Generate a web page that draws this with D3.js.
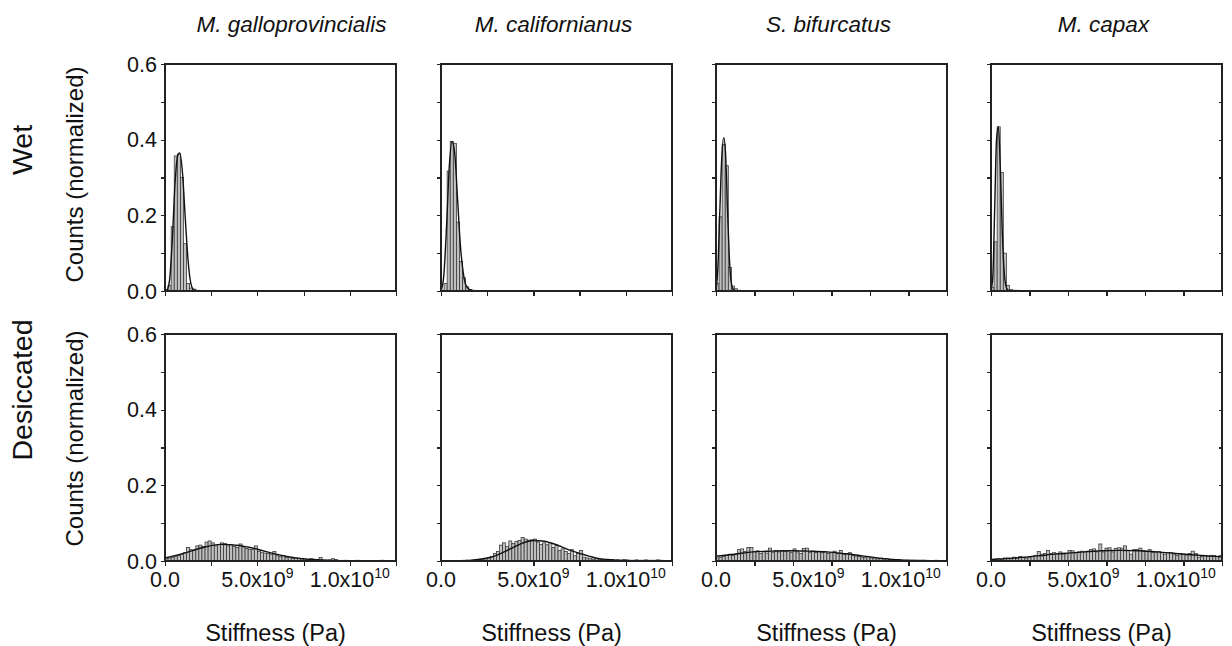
<!DOCTYPE html>
<html>
  <head>
    <meta charset="utf-8">
    <title>stiffness histograms</title>
    <script src="https://cdn.jsdelivr.net/npm/d3@7"></script>
    <style>
      body { margin: 0; background: #fff; }
      text { font-family: Arial, "Liberation Sans", sans-serif; fill: #111; }
      .axis path, .axis line { stroke: #222; stroke-width: 1.2; shape-rendering: crispEdges; }
      .bar { fill: #c0c0c0; stroke: #333; stroke-width: 0.75; }
      .fit { fill: none; stroke: #111; stroke-width: 1.4; }
    </style>
  </head>
  <body>
    <script>
      // species (columns) and conditions (rows)
      var species = ["M. galloprovincialis", "M. californianus", "S. bifurcatus", "M. capax"];
      var conditions = ["Wet", "Desiccated"];

      // histogram bin width in Pa, bins start at 0
      var binWidth = 1.25e10 / 75;

      // wet: normalized counts per bin (later bins are 0)
      var wetGallo = [0.004, 0.015, 0.17, 0.357, 0.362, 0.30, 0.125, 0.02, 0.008, 0.005, 0.002, 0.001];
      var wetCalif = [0.002, 0.02, 0.317, 0.395, 0.39, 0.182, 0.078, 0.035, 0.011, 0.004, 0.002];
      var wetBifur = [0.02, 0.196, 0.387, 0.331, 0.062, 0.013, 0.006, 0.002];
      var wetCapax = [0.01, 0.13, 0.434, 0.313, 0.10, 0.015, 0.004, 0.002, 0.002];

      // desiccated: normalized counts per bin
      var desGallo = [
        0.006, 0.008, 0.010, 0.012, 0.015, 0.018, 0.022, 0.036, 0.030, 0.028,
        0.040, 0.042, 0.038, 0.050, 0.053, 0.048, 0.040, 0.044, 0.048, 0.046,
        0.040, 0.043, 0.038, 0.036, 0.045, 0.037, 0.033, 0.030, 0.030, 0.040,
        0.025, 0.022, 0.021, 0.020, 0.018, 0.025, 0.014, 0.012, 0.015, 0.009,
        0.010, 0.007, 0.008, 0.006, 0.005, 0.005, 0.004, 0.006, 0.003, 0.002,
        0.009, 0.002, 0.002, 0.003, 0.006, 0.004, 0.001, 0.001, 0.002, 0.001,
        0.001, 0.001, 0.002, 0.001, 0.001, 0.001, 0.001, 0.001, 0.001, 0.001,
        0.002, 0.001, 0.001, 0.001, 0.001];
      var desCalif = [
        0, 0, 0, 0, 0.001, 0, 0.001, 0.001, 0.002, 0.001,
        0.002, 0.003, 0.004, 0.005, 0.006, 0.008, 0.012, 0.020, 0.025, 0.042,
        0.048, 0.038, 0.053, 0.046, 0.052, 0.054, 0.062, 0.058, 0.055, 0.056,
        0.058, 0.050, 0.044, 0.048, 0.043, 0.048, 0.036, 0.042, 0.028, 0.032,
        0.025, 0.020, 0.030, 0.014, 0.020, 0.028, 0.010, 0.008, 0.006, 0.005,
        0.006, 0.004, 0.004, 0.003, 0.003, 0.004, 0.002, 0.003, 0.002, 0.004,
        0.003, 0.002, 0.002, 0.003, 0.002, 0.002, 0.003, 0.002, 0.002, 0.002,
        0.003, 0.002, 0.001, 0.001, 0.001];
      var desBifur = [
        0.008, 0.010, 0.012, 0.015, 0.018, 0.015, 0.018, 0.030, 0.032, 0.025,
        0.036, 0.036, 0.025, 0.027, 0.020, 0.025, 0.021, 0.034, 0.022, 0.028,
        0.024, 0.028, 0.025, 0.027, 0.022, 0.032, 0.024, 0.020, 0.033, 0.034,
        0.022, 0.026, 0.022, 0.025, 0.022, 0.024, 0.020, 0.022, 0.026, 0.020,
        0.028, 0.018, 0.020, 0.022, 0.015, 0.013, 0.012, 0.010, 0.010, 0.012,
        0.008, 0.008, 0.006, 0.006, 0.005, 0.006, 0.004, 0.004, 0.003, 0.003,
        0.002, 0.002, 0.002, 0.001, 0.002, 0.001, 0.001, 0.002, 0.001, 0.001,
        0.001, 0.002, 0.001, 0.001, 0.001];
      var desCapax = [
        0.003, 0.005, 0.006, 0.004, 0.008, 0.008, 0.006, 0.010, 0.008, 0.012,
        0.010, 0.008, 0.010, 0.012, 0.015, 0.025, 0.018, 0.020, 0.028, 0.020,
        0.022, 0.020, 0.024, 0.021, 0.020, 0.028, 0.027, 0.022, 0.024, 0.026,
        0.024, 0.026, 0.030, 0.032, 0.024, 0.045, 0.024, 0.034, 0.035, 0.024,
        0.033, 0.035, 0.034, 0.040, 0.028, 0.018, 0.030, 0.030, 0.034, 0.028,
        0.025, 0.030, 0.022, 0.022, 0.025, 0.022, 0.018, 0.022, 0.022, 0.018,
        0.015, 0.020, 0.018, 0.016, 0.020, 0.026, 0.020, 0.010, 0.012, 0.015,
        0.012, 0.015, 0.015, 0.012, 0.015];

      // fitted curves, points [stiffness, count]
      var fitWetGallo = [[1e8, 0], [2.5e8, 0.03], [4e8, 0.14], [5.5e8, 0.29], [7e8, 0.36], [8e8, 0.365],
        [9.5e8, 0.31], [1.1e9, 0.19], [1.25e9, 0.08], [1.4e9, 0.02], [1.55e9, 0.003], [1.8e9, 0], [1.25e10, 0]];
      var fitWetCalif = [[0, 0], [1.5e8, 0.04], [3e8, 0.17], [4.5e8, 0.33], [6e8, 0.395], [7.5e8, 0.36],
        [9e8, 0.24], [1.05e9, 0.12], [1.2e9, 0.05], [1.35e9, 0.015], [1.6e9, 0.002], [1.9e9, 0], [1.25e10, 0]];
      var fitWetBifur = [[0, 0], [1e8, 0.06], [2e8, 0.2], [3e8, 0.34], [4.2e8, 0.405], [5.2e8, 0.36],
        [6.2e8, 0.22], [7.2e8, 0.09], [8.2e8, 0.025], [9.5e8, 0.003], [1.1e9, 0], [1.25e10, 0]];
      var fitWetCapax = [[0, 0.002], [1e8, 0.04], [2e8, 0.22], [3e8, 0.4], [4e8, 0.434], [5e8, 0.33],
        [6e8, 0.17], [7e8, 0.06], [8e8, 0.015], [9e8, 0.003], [1.05e9, 0], [1.25e10, 0]];

      var fitDesGallo = [[0, 0.008], [1e9, 0.02], [2e9, 0.035], [3e9, 0.044], [4e9, 0.041], [5e9, 0.031],
        [6e9, 0.018], [7e9, 0.009], [8e9, 0.004], [9e9, 0.0015], [1.05e10, 0.0004], [1.25e10, 0]];
      var fitDesCalif = [[0, 0], [1e9, 0.0005], [2e9, 0.004], [2.5e9, 0.008], [3e9, 0.015], [3.5e9, 0.026],
        [4e9, 0.038], [4.5e9, 0.049], [5e9, 0.054], [5.5e9, 0.053], [6e9, 0.047], [6.5e9, 0.038],
        [7e9, 0.028], [7.5e9, 0.02], [8e9, 0.013], [8.5e9, 0.007], [9e9, 0.004], [1e10, 0.001], [1.25e10, 0]];
      var fitDesBifur = [[0, 0.0125], [1e9, 0.018], [2e9, 0.024], [3e9, 0.026], [4e9, 0.027], [5e9, 0.026],
        [6e9, 0.024], [7e9, 0.019], [8e9, 0.013], [9e9, 0.007], [1e10, 0.003], [1.1e10, 0.0015], [1.25e10, 0.0005]];
      var fitDesCapax = [[0, 0.004], [1e9, 0.007], [2e9, 0.011], [3e9, 0.016], [4e9, 0.02], [5e9, 0.024],
        [6e9, 0.027], [7e9, 0.028], [8e9, 0.027], [9e9, 0.024], [1e10, 0.02], [1.1e10, 0.016], [1.25e10, 0.011]];

      var bins = [[wetGallo, wetCalif, wetBifur, wetCapax], [desGallo, desCalif, desBifur, desCapax]];
      var fits = [[fitWetGallo, fitWetCalif, fitWetBifur, fitWetCapax], [fitDesGallo, fitDesCalif, fitDesBifur, fitDesCapax]];

      // axis ticks
      var xMax = 1.25e10;
      var yMax = 0.6;
      var yTicks = [0, 0.1, 0.2, 0.3, 0.4, 0.5, 0.6];
      var yLabels = [0, 0.2, 0.4, 0.6];
      var xTicksA = [0, 2.5e9, 5e9, 7.5e9, 1e10, 1.25e10];
      var xTicksB = [0, 1.25e10 / 6, 2.5e10 / 6, 3.75e10 / 6, 5e10 / 6, 6.25e10 / 6, 1.25e10];
      var xLabels = [[0, "0.0", ""], [5e9, "5.0x10", "9"], [1e10, "1.0x10", "10"]];

      // layout
      var W = 1232, H = 646;
      var colLeft = [165, 441, 716, 991];
      var rowTop = [64, 334];
      var pw = 231, ph = 227;

      var svg = d3.select("body").append("svg")
        .attr("width", W)
        .attr("height", H);

      var x = d3.scaleLinear().domain([0, xMax]).range([0, pw]);
      var y = d3.scaleLinear().domain([0, yMax]).range([ph, 0]);

      var line = d3.line()
        .x(function(d) { return x(d[0]); })
        .y(function(d) { return y(d[1]); })
        .curve(d3.curveMonotoneX);

      for (var r = 0; r < 2; r++) {
        for (var c = 0; c < 4; c++) {
          var g = svg.append("g")
            .attr("transform", "translate(" + colLeft[c] + "," + rowTop[r] + ")");

          var data = bins[r][c].map(function(v, i) { return { x0: i * binWidth, v: v }; })
            .filter(function(d) { return d.v > 0; });

          g.selectAll("rect.bar")
            .data(data)
            .enter()
            .append("rect")
            .attr("class", "bar")
            .attr("x", function(d) { return x(d.x0); })
            .attr("width", function(d) { return x(d.x0 + binWidth) - x(d.x0); })
            .attr("y", function(d) { return y(d.v); })
            .attr("height", function(d) { return y(0) - y(d.v); });

          g.append("path")
            .datum(fits[r][c])
            .attr("class", "fit")
            .attr("d", line);

          // x axis (ticks only, labels added by hand for superscripts)
          var xAxis = d3.axisBottom(x)
            .tickValues(c < 2 ? xTicksA : xTicksB)
            .tickSize(5)
            .tickSizeOuter(0)
            .tickFormat("");
          g.append("g")
            .attr("class", "axis")
            .attr("transform", "translate(0," + ph + ")")
            .call(xAxis);

          // y axis
          var yAxis = d3.axisLeft(y)
            .tickValues(yTicks)
            .tickSizeOuter(0)
            .tickSize(4)
            .tickFormat("");
          g.append("g")
            .attr("class", "axis")
            .call(yAxis);

          if (c === 3) {
            g.append("g")
              .attr("class", "axis")
              .attr("transform", "translate(" + pw + ",0)")
              .call(d3.axisLeft(y).tickValues(yTicks).tickSize(3).tickSizeOuter(0).tickFormat(""));
          }

          // frame
          g.append("rect")
            .attr("width", pw)
            .attr("height", ph)
            .attr("fill", "none")
            .attr("stroke", "#222")
            .attr("stroke-width", 1.2)
            .attr("shape-rendering", "crispEdges");

          if (c === 0) {
            g.selectAll("text.ylab")
              .data(yLabels)
              .enter()
              .append("text")
              .attr("class", "ylab")
              .attr("x", -8)
              .attr("y", function(d) { return y(d); })
              .attr("dy", "0.36em")
              .attr("text-anchor", "end")
              .attr("font-size", 21.5)
              .text(function(d) { return d3.format(".1f")(d); });
          }

          if (r === 1) {
            var lab = g.selectAll("text.xlab")
              .data(xLabels)
              .enter()
              .append("text")
              .attr("class", "xlab")
              .attr("x", function(d) { return x(d[0]); })
              .attr("y", ph + 26)
              .attr("text-anchor", "middle")
              .attr("font-size", 21.5);
            lab.append("tspan").text(function(d) { return d[1]; });
            lab.append("tspan")
              .attr("dy", -9)
              .attr("font-size", 14)
              .text(function(d) { return d[2]; });

            g.append("text")
              .attr("x", pw / 2 - 5)
              .attr("y", ph + 80)
              .attr("text-anchor", "middle")
              .attr("font-size", 23.5)
              .text("Stiffness (Pa)");
          }

          if (r === 0) {
            g.append("text")
              .attr("x", pw / 2 + (c === 0 ? 11 : -3))
              .attr("y", -32)
              .attr("text-anchor", "middle")
              .attr("font-size", 22.5)
              .attr("font-style", "italic")
              .text(species[c]);
          }
        }

        // row labels
        svg.append("text")
          .attr("transform", "translate(" + 83 + "," + (rowTop[r] + ph / 2 + (r === 0 ? -3 : -9)) + ") rotate(-90)")
          .attr("text-anchor", "middle")
          .attr("font-size", 24)
          .text("Counts (normalized)");

        svg.append("text")
          .attr("transform", "translate(" + 32 + "," + (r === 0 ? 150 : 390) + ") rotate(-90)")
          .attr("text-anchor", "middle")
          .attr("font-size", 28.5)
          .text(conditions[r]);
      }
    </script>
  </body>
</html>
